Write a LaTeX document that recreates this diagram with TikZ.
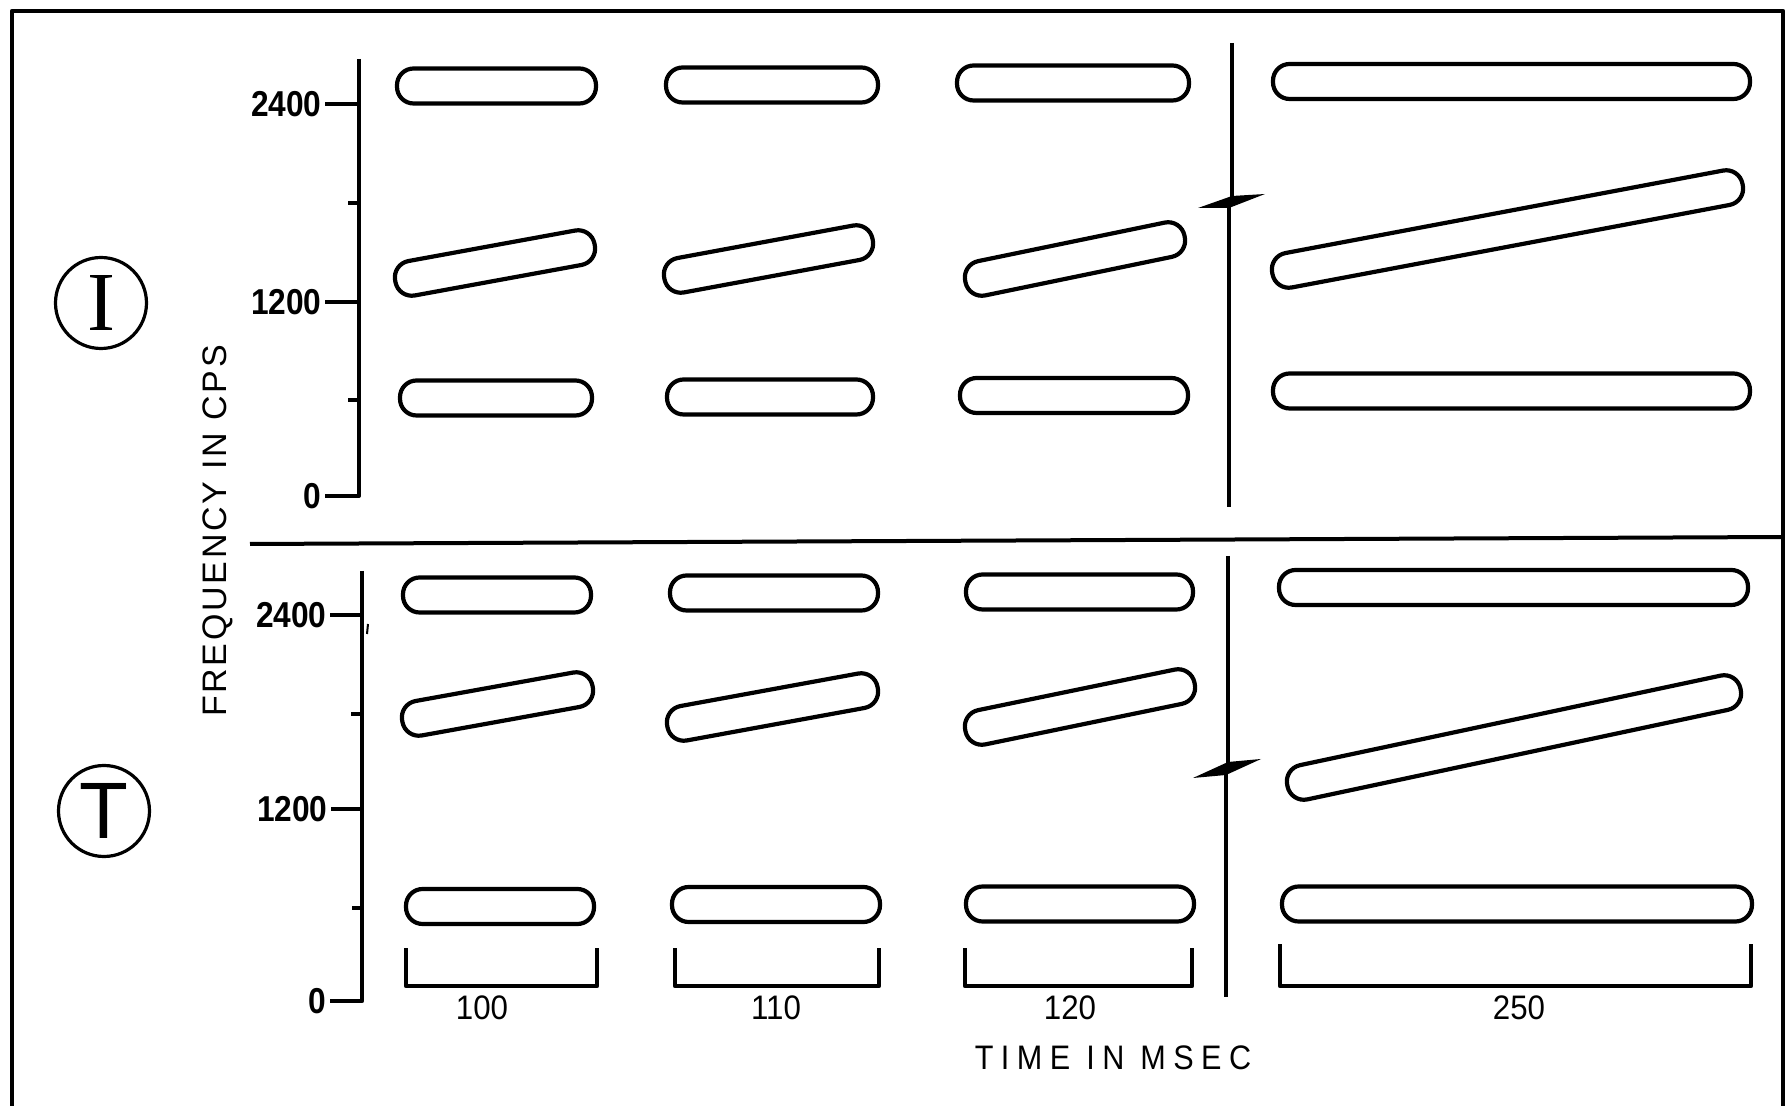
\documentclass[tikz,border=0pt]{standalone}
\usepackage{fontspec}
\setmainfont{Liberation Sans}
\newfontfamily\ticklbl[FakeStretch=0.88]{Liberation Sans}
\newfontfamily\durfont[FakeStretch=0.92]{Liberation Sans}
\newfontfamily\spacedfont[FakeStretch=0.9,LetterSpace=22]{Liberation Sans}
\newfontfamily\yfont[LetterSpace=8]{Liberation Sans}
\newfontfamily\serifI{Liberation Serif}
\usetikzlibrary{calc}

\tikzset{
  barline/.style={draw, line width=2.1pt, rounded corners=8.3pt},
  axisline/.style={line width=2.1pt},
  ticklabel/.style={anchor=east, inner sep=1.5pt, font=\ticklbl\bfseries\fontsize{18}{18}\selectfont},
  durlabel/.style={inner sep=0pt, font=\durfont\fontsize{17}{17}\selectfont},
  circlab/.style={circle, draw, line width=1.6pt, minimum size=45.5pt, inner sep=0pt},
}

\newcommand{\pill}[4]{%
  \pgfmathsetmacro{\pillang}{atan2(#2-#4,#3-#1)}%
  \pgfmathsetmacro{\pilllen}{veclen(#3-#1,#4-#2)}%
  \draw[barline, shift={(#1,#2)}, rotate=\pillang] (-18,-17.5) rectangle ({\pilllen+18},17.5);%
}

\begin{document}
\begin{tikzpicture}[x=0.5pt, y=-0.5pt, line join=round]
\useasboundingbox (0,0) rectangle (1790,1106);

% frame and divider
\draw[line width=2.2pt] (12,1106) -- (12,11) -- (1783,11) -- (1783,1106);
\draw[line width=2pt] (250,544) -- (1783,537);

% ---------- upper panel ----------
\draw[axisline] (359,59) -- (359,496) -- (325,496);
\draw[axisline] (325,104) -- (359,104);
\draw[axisline] (325,302) -- (359,302);
\draw[axisline] (348,203) -- (359,203);
\draw[axisline] (348,400) -- (359,400);
\node[ticklabel] (u2400) at (325,104) {2400};
\node[ticklabel] (u1200) at (325,302) {1200};
\node[ticklabel] (u0) at (325,496) {0};

\node[circlab, font=\serifI\fontsize{42}{42}\selectfont] (circI) at (101,303) {I};

\pill{415}{86}{578}{86}
\pill{413}{278}{577}{248}
\pill{418}{398}{574}{398}
\pill{684}{85}{860}{85}
\pill{682}{275}{855}{243}
\pill{685}{397}{855}{397}
\pill{975}{83}{1171}{83}
\pill{983}{278}{1167}{240}
\pill{978}{395.5}{1170}{395.5}
\pill{1291}{81.5}{1732}{81.5}
\pill{1290}{270}{1725}{188}
\pill{1291}{391}{1732}{391}

% break line upper
\draw[axisline] (1232,43) -- (1232,197);
\fill (1198,208) -- (1232,196) -- (1265,194) -- (1229,208) -- cycle;
\draw[axisline] (1229,207) -- (1229,507);

% ---------- lower panel ----------
\draw[axisline] (362,571) -- (362,1001) -- (330,1001);
\draw[axisline] (330,615) -- (362,615);
\draw[axisline] (331,809) -- (362,809);
\draw[axisline] (351,714) -- (362,714);
\draw[axisline] (352,908) -- (362,908);
\draw[line width=1pt] (368,624) -- (367,634);
\node[ticklabel] (l2400) at (330,615) {2400};
\node[ticklabel] (l1200) at (331,809) {1200};
\node[ticklabel] (l0) at (330,1001) {0};

\node[circlab, font=\fontsize{40}{40}\selectfont] (circT) at (104,811) {T};

\pill{421}{595}{573}{595}
\pill{420}{718}{575}{690}
\pill{424}{906.5}{576}{906.5}
\pill{688}{593}{860}{593}
\pill{685}{723}{860}{691}
\pill{690}{904.5}{862}{904.5}
\pill{984}{592}{1175}{592}
\pill{983}{727}{1177}{687}
\pill{984}{904}{1176}{904}
\pill{1297}{587.5}{1730}{587.5}
\pill{1305}{782}{1723}{693}
\pill{1300}{904}{1734}{904}

% break line lower
\draw[axisline] (1228,556) -- (1228,763);
\fill (1193,778) -- (1228,762) -- (1261,759) -- (1226,775) -- cycle;
\draw[axisline] (1226,774) -- (1226,997);

% duration brackets
\draw[axisline] (406,948) -- (406,986) -- (597,986) -- (597,948);
\draw[axisline] (675,948) -- (675,986) -- (879,986) -- (879,948);
\draw[axisline] (965,948) -- (965,986) -- (1192,986) -- (1192,948);
\draw[axisline] (1280,944) -- (1280,986) -- (1751,986) -- (1751,944);
\node[durlabel] (d100) at (482,1008) {100};
\node[durlabel] (d110) at (776,1008) {110};
\node[durlabel] (d120) at (1070,1008) {120};
\node[durlabel] (d250) at (1519,1008) {250};

% axis titles
\node[inner sep=0pt, font=\spacedfont\fontsize{17}{17}\selectfont] (xtitle) at (1113,1058) {TIME IN MSEC};
\node[inner sep=0pt, rotate=90, font=\yfont\fontsize{17}{17}\selectfont] (ytitle) at (218,531) {FREQUENCY IN CPS};
\end{tikzpicture}
\end{document}
